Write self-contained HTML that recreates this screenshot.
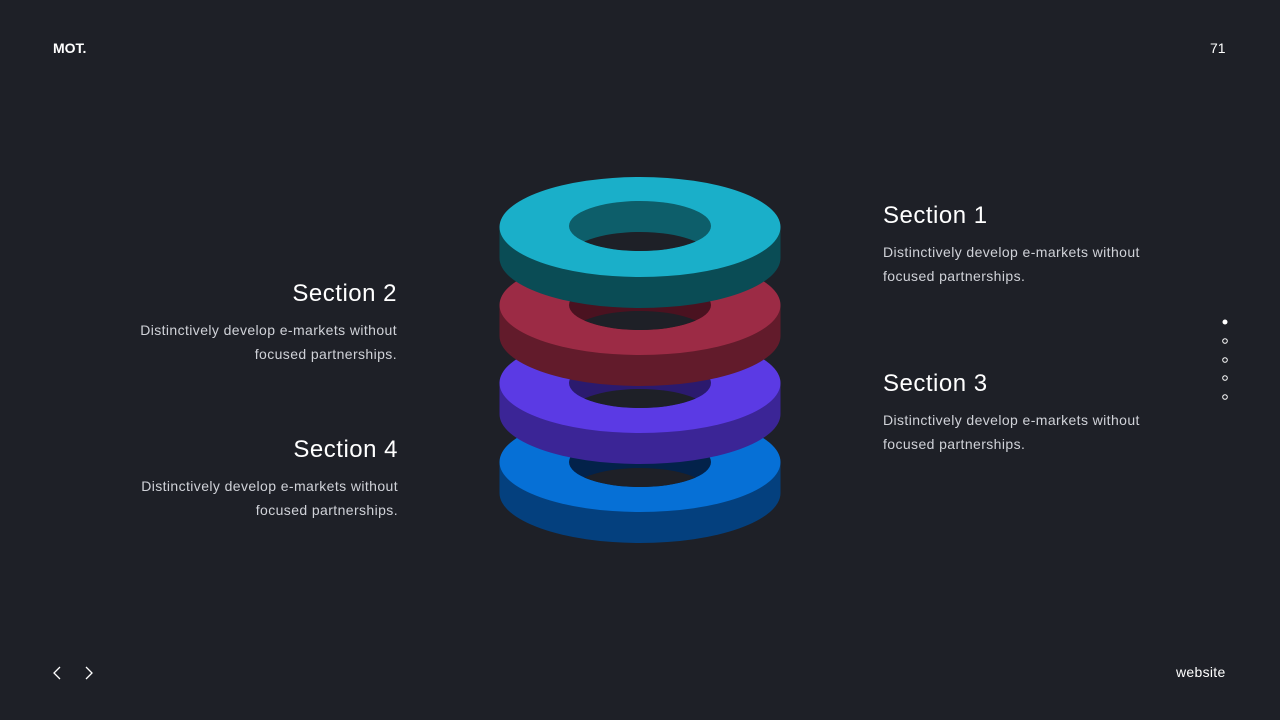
<!DOCTYPE html>
<html><head><meta charset="utf-8"><style>
body{margin:0;width:1280px;height:720px;background:#1e2027;font-family:"Liberation Sans",sans-serif;color:#fff;position:relative;overflow:hidden}
.a{position:absolute}
h2{margin:0;font-weight:300;font-size:24px;position:absolute;white-space:nowrap;letter-spacing:0.5px}
p{margin:0;font-size:14px;letter-spacing:0.4px;line-height:24px;color:#d0d2d8;position:absolute;white-space:nowrap}
.r{text-align:right}
</style></head><body>
<div class="a" style="left:53px;top:40px;font-weight:bold;font-size:14px">MOT.</div>
<div class="a" style="left:1210px;top:40px;font-size:14px">71</div>
<div class="a" style="left:1176px;top:664px;font-size:14px;letter-spacing:0.3px">website</div>
<svg class="a" style="left:0;top:0" width="1280" height="720">
<polyline points="60,667 54,673 60,679" fill="none" stroke="#fff" stroke-width="1.3"/>
<polyline points="86,667 92,673 86,679" fill="none" stroke="#fff" stroke-width="1.3"/>
<circle cx="1225" cy="322" r="2.5" fill="#fff"/>
<circle cx="1225" cy="341" r="2.3" fill="none" stroke="#fff" stroke-width="1"/>
<circle cx="1225" cy="360" r="2.3" fill="none" stroke="#fff" stroke-width="1"/>
<circle cx="1225" cy="378" r="2.3" fill="none" stroke="#fff" stroke-width="1"/>
<circle cx="1225" cy="397" r="2.3" fill="none" stroke="#fff" stroke-width="1"/>
<defs>
<clipPath id="h4"><ellipse cx="640" cy="462" rx="71" ry="25"/></clipPath>
<clipPath id="h3"><ellipse cx="640" cy="383" rx="71" ry="25"/></clipPath>
<clipPath id="h2"><ellipse cx="640" cy="305" rx="71" ry="25"/></clipPath>
<clipPath id="h1"><ellipse cx="640" cy="226" rx="71" ry="25"/></clipPath>
</defs>
<ellipse cx="640" cy="493" rx="140.5" ry="50" fill="#04407e"/>
<rect x="499.5" y="462" width="281" height="31" fill="#04407e"/>
<ellipse cx="640" cy="462" rx="140.5" ry="50" fill="#0670d6"/>
<ellipse cx="640" cy="462" rx="71" ry="25" fill="#03224a"/>
<ellipse cx="640" cy="493" rx="71" ry="25" fill="#1e2027" clip-path="url(#h4)"/>
<ellipse cx="640" cy="414" rx="140.5" ry="50" fill="#3b2596"/>
<rect x="499.5" y="383" width="281" height="31" fill="#3b2596"/>
<ellipse cx="640" cy="383" rx="140.5" ry="50" fill="#5b3ae4"/>
<ellipse cx="640" cy="383" rx="71" ry="25" fill="#2b1a6e"/>
<ellipse cx="640" cy="414" rx="71" ry="25" fill="#1e2027" clip-path="url(#h3)"/>
<ellipse cx="640" cy="336" rx="140.5" ry="50" fill="#621b2b"/>
<rect x="499.5" y="305" width="281" height="31" fill="#621b2b"/>
<ellipse cx="640" cy="305" rx="140.5" ry="50" fill="#9c2b45"/>
<ellipse cx="640" cy="305" rx="71" ry="25" fill="#4a1220"/>
<ellipse cx="640" cy="336" rx="71" ry="25" fill="#1e2027" clip-path="url(#h2)"/>
<ellipse cx="640" cy="258" rx="140.5" ry="50" fill="#0a4c55"/>
<rect x="499.5" y="227" width="281" height="31" fill="#0a4c55"/>
<ellipse cx="640" cy="227" rx="140.5" ry="50" fill="#1aafc9"/>
<ellipse cx="640" cy="226" rx="71" ry="25" fill="#0d5e6a"/>
<ellipse cx="640" cy="257" rx="71" ry="25" fill="#1e2027" clip-path="url(#h1)"/>
</svg>
<h2 style="left:883px;top:202px">Section 1</h2>
<p style="left:883px;top:240px">Distinctively develop e-markets without<br>focused partnerships.</p>
<h2 style="left:883px;top:370px">Section 3</h2>
<p style="left:883px;top:408px">Distinctively develop e-markets without<br>focused partnerships.</p>
<h2 class="r" style="right:883px;top:280px">Section 2</h2>
<p class="r" style="right:883px;top:318px">Distinctively develop e-markets without<br>focused partnerships.</p>
<h2 class="r" style="right:882px;top:436px">Section 4</h2>
<p class="r" style="right:882px;top:474px">Distinctively develop e-markets without<br>focused partnerships.</p>
</body></html>
